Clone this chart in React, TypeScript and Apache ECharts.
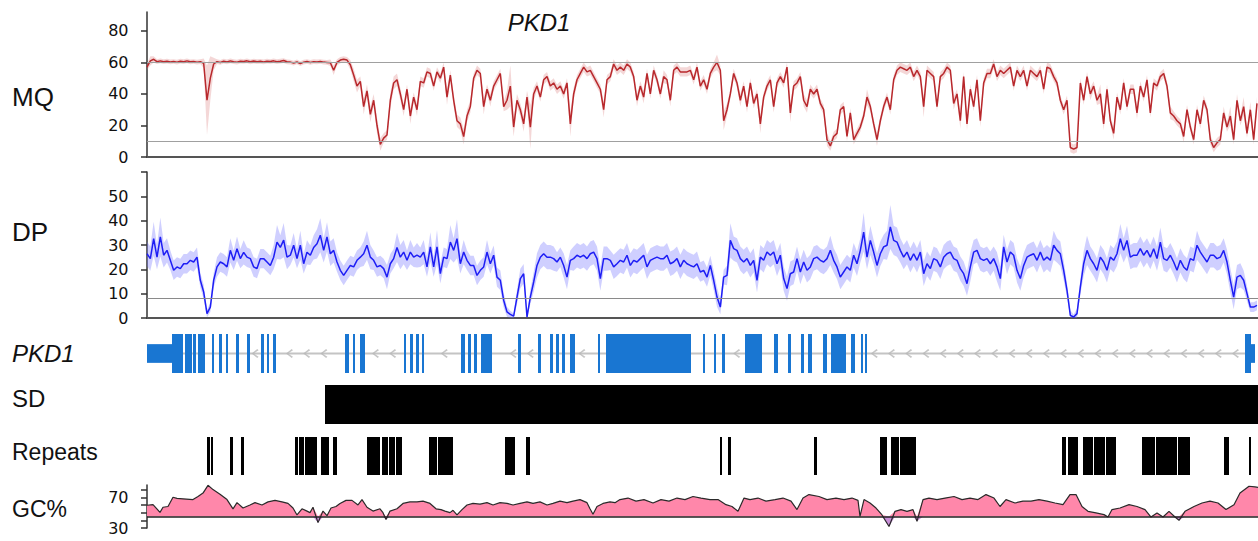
import React, { useEffect, useRef } from 'react';
import * as echarts from 'echarts';

const FONT = '"Liberation Sans", Arial, sans-serif';
const TICK_FONT = '"DejaVu Sans", sans-serif';

// Relative position along the locus (0 = left edge of the tracks)
const REGION_END = 1111;
const STEP = 10 / 3; // spacing of MQ / DP bins

const geneName = 'PKD1';
const trackLabels = ['MQ', 'DP', 'PKD1', 'SD', 'Repeats', 'GC%'];

const mqTicks = [0, 20, 40, 60, 80];
const dpTicks = [0, 10, 20, 30, 40, 50];
const dpTickMarks = [0, 10, 20, 30, 40, 50, 60];
const gcTickLabels = [30, 70];
const gcTickMarks = [30, 40, 50, 60, 70, 80];
const mqThresholds = [60, 10];
const dpThreshold = 8;
const gcBaseline = 45;

const mqValues = [
  57, 61, 62, 60.5, 61, 60.5, 60.8, 60.3, 60.6, 60.2,
  60.8, 60.5, 61, 60.4, 60.6, 60.2, 60.5, 59.5, 36, 50,
  59, 60.5, 60, 60.8, 60.3, 61, 60.5, 60.2, 60.8, 60.6,
  61, 60.4, 60.9, 60.5, 60.7, 60.3, 60.8, 60.6, 61, 60.5,
  60.8, 61.2, 60.4, 60.2, 59.6, 60.3, 59.2, 60.2, 60.6, 60,
  60.5, 60.3, 60.6, 60.2, 60, 59.8, 55, 60, 61.5, 62,
  61.5, 58.5, 52, 45, 48, 32, 42, 27, 36, 20,
  8, 12, 14, 36, 47, 49,
  40, 30, 43, 26, 38, 30, 48, 47, 54, 53,
  45, 54, 50, 57, 38, 52, 36, 23, 21, 13,
  26, 32, 50, 55, 53, 32, 43, 36, 45, 49,
  53, 32, 36, 45, 19, 36, 30, 21, 38, 19,
  40, 45, 38, 49, 51, 45, 47, 43, 45, 40,
  47, 21, 40, 49, 53, 57, 54, 55, 51, 47,
  43, 30, 49, 51, 59, 55, 57, 55, 59, 57,
  51, 36, 45, 38, 53, 40, 55, 49, 40, 51,
  49, 36, 55, 57, 54, 54, 54, 55, 49, 57,
  45, 49, 43, 53, 57, 60, 55, 23, 30, 40,
  53, 47, 36, 45, 32, 47, 34, 40, 21, 38,
  45, 49, 32, 47, 51, 47, 57, 28, 45, 47,
  51, 36, 32, 43, 40, 43, 34,
  30, 11, 7, 13, 15, 30, 32, 13, 28, 11,
  15, 19, 26, 38, 32, 21, 11, 23, 32, 38,
  30, 49, 55, 57, 56, 55, 57, 51, 55, 51,
  32, 55, 53, 51, 32, 51, 53, 57, 55, 34,
  40, 23, 51, 21, 43, 32, 49, 23, 47, 53,
  53, 59, 51, 55, 53, 55, 57, 45, 55, 51,
  55, 45, 55, 53, 51, 55, 43, 57, 56, 51,
  47, 36, 30, 36, 6, 5, 6, 47, 36, 51,
  40, 45, 36, 40, 21, 43, 23, 15, 38, 30,
  47, 32, 43, 43, 28, 45, 38, 49, 28, 47,
  45, 51, 53, 45, 28, 26, 23, 21, 13, 30,
  19, 11, 30, 21, 36, 30, 11, 6, 9, 11,
  28, 19, 26, 11, 36, 23, 32, 15, 30, 11,
  34,
];

const mqSpread = [
  2, 3, 2, 1.5, 1.5, 1.5, 1.5, 1.5, 1.5, 1.5,
  1.5, 1.5, 1.5, 1.5, 1.5, 1.5, 1.5, 3, 22, 14,
  4, 1.5, 1.5, 1.5, 1.5, 1.5, 1.5, 1.5, 1.5, 1.5,
  1.5, 1.5, 1.5, 1.5, 1.5, 1.5, 1.5, 1.5, 1.5, 1.5,
  1.5, 1.5, 1.5, 1.5, 1.5, 1.5, 1.5, 1.5, 1.5, 1.5,
  1.5, 1.5, 1.5, 1.5, 1.5, 2, 3, 2, 2, 2,
  2, 3, 4, 4, 3, 5, 4, 5, 4, 5,
  4, 3, 3, 5, 4, 4,
  4, 4, 3, 5, 3, 4, 3, 3, 3, 3,
  3, 3, 3, 3, 5, 3, 4, 4, 4, 5,
  4, 4, 3, 3, 3, 5, 3, 4, 3, 3,
  3, 3, 6, 13, 6, 4, 4, 5, 4, 14,
  4, 3, 3, 3, 3, 3, 3, 3, 3, 3,
  3, 8, 4, 3, 3, 3, 3, 3, 3, 3,
  3, 5, 3, 3, 3, 3, 3, 3, 3, 3,
  3, 4, 3, 4, 3, 3, 3, 3, 3, 4,
  3, 4, 3, 3, 3, 3, 3, 3, 3, 3,
  3, 3, 3, 3, 3, 5, 3, 6, 4, 3,
  3, 3, 4, 3, 4, 3, 3, 3, 6, 3,
  3, 3, 4, 3, 3, 3, 3, 6, 3, 3,
  3, 4, 4, 3, 3, 3, 3,
  3, 4, 3, 3, 3, 3, 3, 3, 3, 3,
  3, 3, 3, 5, 3, 3, 4, 3, 3, 3,
  3, 3, 3, 3, 3, 3, 3, 3, 3, 3,
  7, 3, 3, 3, 3, 3, 3, 3, 3, 4,
  3, 5, 3, 4, 3, 3, 3, 4, 3, 3,
  3, 3, 3, 3, 3, 3, 3, 3, 3, 3,
  3, 3, 3, 3, 3, 3, 3, 3, 3, 3,
  3, 3, 3, 3, 3, 3, 3, 3, 3, 3,
  4, 3, 3, 6, 4, 3, 3, 4, 3, 3,
  3, 3, 3, 3, 4, 3, 3, 3, 3, 3,
  3, 3, 3, 3, 4, 3, 3, 3, 4, 3,
  3, 3, 3, 3, 3, 3, 3, 3, 3, 3,
  4, 3, 6, 3, 4, 3, 6, 3, 5, 3,
  4,
];

const dpValues = [
  26.4, 24.4, 32.6, 25, 33.3, 25.8, 27.8, 23.7, 19.6, 21,
  20.3, 22.3, 22.3, 23.7, 23, 25, 15.5, 10.7, 1.8, 4.5,
  15.5, 21, 23, 22.3, 21, 27.8, 23.7, 28.5, 24.4, 27,
  25, 24.4, 21, 20.3, 24.4, 24.4, 23, 21.6, 25, 31.2,
  29, 32, 25, 25.8, 29.9, 24.4, 29.9, 22.3, 27, 25.8,
  29, 30.5, 34, 27.8, 33.3, 26.4, 27.8, 23, 19.6, 17.5,
  19.6, 21.6, 21, 23.7, 25, 26.4, 29.9, 25, 23.7, 21,
  21.6, 20.3, 16.8, 22.3, 24.4, 29,
  25, 27.1, 23.7, 27.1, 25, 25.8, 25, 27.1, 21, 29.2,
  21, 29.2, 18.2, 25, 24.4, 31.2, 27.8, 32.6, 22.3, 27.1,
  23.7, 21.6, 21.6, 17.5, 19.6, 21, 27.1, 22.3, 25.8, 16.8,
  15.5, 7.3, 2.5, 1.5, 0.8, 8.6, 16.2, 18.2, 0.4, 8.6,
  14.8, 21.6, 25, 26.4, 25, 25, 24.4, 23, 25, 21.6,
  16.8, 23.7, 24.4, 25.8, 25, 25.8, 24.4, 26.4, 27.1, 24.4,
  16.2, 24.4, 24.4, 23.7, 21, 22.3, 23.7, 23, 25.8, 21.6,
  23.7, 23, 24.4, 25.8, 21, 23.7, 24.4, 25, 24.4, 24.4,
  25.8, 22.3, 23, 24.4, 21, 23.7, 22.3, 21.6, 21, 22.3,
  18.9, 19.6, 16.8, 21.6, 15.5, 8.6, 4.5, 16.8, 17.5, 31.9,
  28.5, 27.8, 24.4, 23, 24.4, 21.6, 23.7, 15.5, 25, 23.7,
  27.1, 25.8, 27.1, 22.3, 25.8, 16.2, 12.1, 18.2, 18.9, 24.4,
  18.9, 23, 19.6, 21, 24.4, 25, 23.7,
  23, 24.4, 27.8, 23.7, 21, 16.8, 18.9, 21, 19.6, 25.8,
  22.3, 27.8, 35.3, 25, 31.9, 27.1, 21.6, 26.4, 29.2, 29.9,
  37.4, 31.9, 31.2, 27.8, 25, 27.1, 23.7, 26.4, 23.7, 27.1,
  18.2, 22.3, 20.3, 24.4, 23.7, 21, 25, 26.4, 27.1, 24.4,
  23.7, 20.3, 18.2, 14.1, 21, 27.1, 27.8, 24.4, 23.7, 24.4,
  22.3, 24.4, 21, 16.2, 29.2, 23, 27.1, 25.8, 19.6, 16.2,
  21.6, 25, 25.8, 26.4, 23.7, 27.1, 23.7, 25, 23.7, 29.9,
  27.8, 26.4, 19.6, 11.4, 1.1, 0.4, 1.8, 12.7, 22.3, 27.8,
  24.4, 22.3, 19.6, 25, 23, 19.6, 25, 23.7, 26.4, 32.6,
  27.8, 31.9, 25, 25.8, 25.8, 28.5, 25.8, 27.8, 25, 28.5,
  24.4, 31.2, 24.4, 23.7, 25.8, 23, 19.6, 23.7, 21, 19.6,
  24.4, 23.7, 29.9, 27.1, 25, 23, 25.8, 25.8, 24.4, 25,
  27.8, 23, 15.5, 8.6, 16.8, 17.5, 15.5, 10, 4.5, 4.5,
  5.2,
];

const dpSpread = [
  5, 5, 7, 5, 8, 5, 5, 4, 4, 4,
  4, 4, 4, 4, 4, 4, 3, 3, 1.5, 2,
  3, 4, 4, 4, 4, 5, 4, 5, 4, 5,
  4, 4, 4, 4, 4, 4, 4, 4, 5, 7,
  5, 7, 5, 4, 5, 4, 6, 4, 5, 4,
  5, 6, 7, 5, 6, 5, 5, 4, 4, 4,
  4, 4, 4, 4, 4, 5, 6, 5, 4, 4,
  4, 4, 5, 4, 4, 6,
  5, 5, 4, 5, 4, 5, 4, 5, 4, 6,
  4, 7, 4, 4, 4, 7, 5, 8, 4, 5,
  4, 4, 4, 4, 4, 4, 5, 4, 4, 4,
  4, 3, 2, 1.5, 1, 3, 4, 4, 1, 3,
  4, 5, 5, 5, 5, 5, 5, 4, 4, 5,
  5, 4, 5, 5, 5, 5, 5, 5, 5, 5,
  5, 5, 5, 4, 5, 5, 5, 5, 5, 5,
  5, 5, 5, 5, 5, 5, 5, 5, 5, 5,
  5, 5, 5, 5, 5, 5, 5, 5, 5, 5,
  4, 4, 4, 4, 4, 4, 3, 3, 4, 7,
  5, 5, 5, 5, 5, 5, 5, 5, 5, 5,
  5, 5, 5, 5, 5, 5, 5, 5, 5, 5,
  5, 5, 5, 5, 5, 5, 5,
  5, 5, 6, 5, 5, 5, 5, 5, 5, 5,
  5, 5, 8, 5, 6, 5, 5, 5, 5, 6,
  9, 6, 6, 5, 5, 5, 5, 5, 5, 5,
  5, 5, 5, 5, 5, 5, 5, 5, 5, 5,
  5, 5, 5, 5, 6, 5, 5, 5, 5, 5,
  5, 5, 6, 5, 5, 5, 5, 5, 5, 5,
  5, 5, 5, 5, 5, 5, 5, 5, 5, 6,
  5, 5, 4, 3, 2, 1, 2, 3, 5, 6,
  5, 5, 5, 5, 5, 5, 5, 5, 5, 6,
  5, 6, 5, 5, 5, 5, 5, 5, 5, 5,
  5, 6, 5, 5, 5, 5, 5, 5, 5, 5,
  5, 5, 6, 5, 5, 5, 5, 5, 5, 5,
  5, 5, 5, 5, 5, 5, 4, 3, 2, 2,
  2,
];

// [position, GC%]
const gcProfile = [
  [0, 59.6], [6, 60.5], [13, 50.4], [16, 57], [21, 58], [26, 70], [30, 68.5], [36, 68], [46, 67], [51, 71],
  [56, 75.5], [61, 85.6], [66, 80], [73, 74], [80, 67], [86, 55], [90, 63], [96, 56], [103, 60], [108, 63],
  [115, 60], [121, 64], [128, 66], [135, 64], [141, 62], [146, 56], [150, 47], [155, 55], [160, 52], [163, 50],
  [166, 57], [171, 37], [176, 52], [180, 46], [184, 56], [189, 58], [193, 62], [199, 66], [205, 66], [211, 60],
  [215, 67], [220, 57], [226, 52], [233, 55], [236, 50], [239, 41], [243, 52], [250, 55], [256, 62], [263, 64],
  [270, 64], [276, 65], [283, 62], [289, 55], [294, 54], [298, 52], [303, 50], [306, 53], [310, 47], [315, 54],
  [320, 60], [326, 62], [333, 61], [340, 63], [346, 60], [353, 63], [360, 62], [366, 60], [373, 62], [380, 64],
  [386, 62], [393, 64], [400, 60], [406, 62], [413, 65], [420, 63], [426, 65], [433, 67], [440, 63], [443, 55],
  [446, 48], [450, 58], [456, 62], [463, 64], [468, 63], [473, 67], [481, 69], [489, 65], [497, 67], [506, 62.6],
  [514, 67], [522, 65], [530, 69], [538, 67], [546, 71], [554, 69], [563, 67], [571, 67], [579, 60.4], [585, 58],
  [591, 51.7], [597, 69], [603, 67], [611, 69], [619, 65], [628, 67], [636, 69], [644, 65], [650, 54], [656, 69],
  [662, 73.5], [672, 71], [680, 67], [689, 69], [697, 67], [705, 69], [711, 66], [713, 45.2], [717, 67], [723, 62.6],
  [729, 56], [735, 47], [742, 32], [748, 51.7], [754, 54], [760, 51.7], [766, 54], [770, 38.7], [776, 67], [782, 69],
  [790, 67], [798, 69], [807, 71], [815, 67], [823, 69], [831, 67], [839, 73.5], [847, 69], [853, 58], [859, 67],
  [868, 62.6], [876, 65], [884, 65], [892, 67], [900, 65], [908, 62.6], [916, 60.4], [923, 73.5], [929, 73.5], [935, 58],
  [941, 51.7], [949, 49.6], [957, 47.4], [961, 44.3], [965, 54], [973, 56], [982, 60.4], [990, 58], [998, 54], [1004, 44.3],
  [1010, 49.6], [1016, 44.3], [1022, 51.7], [1028, 44.3], [1032, 40], [1038, 51.7], [1047, 58], [1055, 62.6], [1063, 65], [1071, 62.6],
  [1079, 54], [1087, 60.4], [1093, 75.7], [1102, 84.4], [1108, 83.5], [1111, 83],
];

// [start, end, kind]  kind 0 = UTR, 1 = coding exon
const exons = [
  [0, 25, 0], [25, 36, 1], [38, 45, 1], [46, 49, 1], [51, 58, 1], [65, 67, 1], [72, 75, 1], [79, 81, 1],
  [89, 92, 1], [100, 103, 1], [114, 117, 1], [120, 122, 1], [126, 129, 1], [198, 202, 1], [206, 208, 1],
  [213, 218, 1], [257, 259, 1], [263, 266, 1], [269, 272, 1], [275, 277, 1], [314, 318, 1], [321, 324, 1],
  [327, 330, 1], [334, 345, 1], [371, 374, 1], [391, 394, 1], [403, 406, 1], [409, 412, 1], [415, 418, 1],
  [423, 428, 1], [451, 453, 1], [459, 544, 1], [556, 558, 1], [567, 569, 1], [575, 578, 1], [598, 615, 1],
  [627, 631, 1], [641, 644, 1], [654, 657, 1], [661, 665, 1], [676, 680, 1], [684, 699, 1], [704, 708, 1],
  [714, 716, 1], [718, 720, 1], [1098, 1104, 1], [1104, 1108, 0],
];

const sdSegments = [[178, 1111]];

const repeats = [
  [60, 63], [64, 66], [83, 86], [94, 97], [148, 151], [152, 157], [158, 170], [174, 182], [186, 190],
  [220, 233], [235, 241], [242, 248], [249, 255], [282, 290], [291, 306], [358, 368], [379, 383],
  [573, 575], [581, 584], [667, 670], [733, 740], [744, 752], [753, 769], [915, 919], [921, 931],
  [936, 946], [947, 958], [959, 969], [995, 1008], [1009, 1030], [1031, 1043], [1077, 1082], [1102, 1104],
];

const ARROW_SPACING = 17.2;
const ARROW_PHASE = 4.9;

function buildOption() {
  const xy = (vals: number[]) => vals.map((v, i) => [i * STEP, v]);

  // Shaded range around a signal, drawn as one polygon through the axis scales
  const band = (vals: number[], spread: number[], g: number, color: string) => ({
    type: 'custom', xAxisIndex: g, yAxisIndex: g, data: [[0, 0]], encode: { x: 0, y: 1 },
    silent: true, z: 1, clip: true,
    renderItem: (params: any, api: any) => {
      const upper: number[][] = [];
      const lower: number[][] = [];
      vals.forEach((v, i) => {
        const s = spread[i] ?? 3;
        upper.push(api.coord([i * STEP, v + s]));
        lower.push(api.coord([i * STEP, Math.max(0, v - s)]));
      });
      return {
        type: 'polygon',
        shape: { points: upper.concat(lower.reverse()) },
        style: { fill: color },
      };
    },
  });

  const gridTops = [12, 172, 334, 385, 437, 485];
  const gridHeights = [145, 146, 39, 39, 38, 43];
  const grids = gridTops.map((t, i) => ({ left: 147, right: 0, top: t, height: gridHeights[i] }));

  const xAxes = gridTops.map((_, i) => ({
    gridIndex: i, type: 'value', min: 0, max: REGION_END,
    show: i <= 1,
    axisLine: { show: i <= 1, onZero: false, lineStyle: { color: '#555', width: 2 } },
    axisTick: { show: false }, axisLabel: { show: false }, splitLine: { show: false },
  }));

  const tickAxis = (g: number, min: number, max: number, interval: number, labels: number[], marks: number[]) => ({
    gridIndex: g, type: 'value', min, max, interval, offset: 8.5,
    axisLine: { show: true, lineStyle: { color: '#333', width: 1.5 } },
    axisTick: { show: true, length: 6, customValues: marks, lineStyle: { color: '#333', width: 1.5 } },
    axisLabel: {
      show: true, margin: 10, customValues: labels,
      formatter: (v: number) => (labels.indexOf(v) >= 0 ? String(v) : ''),
      fontFamily: TICK_FONT, fontSize: 16, color: '#111',
    },
    splitLine: { show: false },
  });

  const yAxes = [
    tickAxis(0, 0, 92, 20, mqTicks, mqTicks),
    tickAxis(1, 0, 60, 10, dpTicks, dpTickMarks),
    { gridIndex: 2, type: 'value', min: 0, max: 1, show: false },
    { gridIndex: 3, type: 'value', min: 0, max: 1, show: false },
    { gridIndex: 4, type: 'value', min: 0, max: 1, show: false },
    tickAxis(5, 30, 86, 10, gcTickLabels, gcTickMarks),
  ];

  // Arrow glyphs along the introns
  const arrowPos: number[][] = [];
  for (let i = 0; i < exons.length - 1; i++) {
    const a = exons[i][1];
    const b = exons[i + 1][0];
    for (let p = ARROW_PHASE; p < b; p += ARROW_SPACING) {
      if (p - a >= 5 && b - p >= 4) arrowPos.push([p, 0.5]);
    }
  }

  const blockRender = (fill: string, useKind: boolean) => (params: any, api: any) => {
    const s = api.value(0);
    const e = api.value(1);
    const kind = useKind ? api.value(2) : 1;
    const top = kind ? 1 : 0.74;
    const bot = kind ? 0 : 0.26;
    const p0 = api.coord([s, top]);
    const p1 = api.coord([e, bot]);
    return {
      type: 'rect',
      shape: { x: p0[0], y: p0[1], width: Math.max(p1[0] - p0[0], 1.2), height: p1[1] - p0[1] },
      style: { fill },
    };
  };

  const gcHigh = gcProfile.map(([x, v]) => [x, Math.max(v, gcBaseline)]);
  const gcLow = gcProfile.map(([x, v]) => [x, Math.min(v, gcBaseline)]);

  const series: any[] = [
    band(mqValues, mqSpread, 0, 'rgba(214, 110, 110, 0.28)'),
    {
      type: 'line', xAxisIndex: 0, yAxisIndex: 0, data: xy(mqValues), symbol: 'none', z: 3,
      lineStyle: { color: '#b8282c', width: 1.5 },
      markLine: {
        silent: true, symbol: ['none', 'none'], label: { show: false },
        lineStyle: { color: '#a0a0a0', width: 1.2, type: 'solid' },
        data: mqThresholds.map((y) => ({ yAxis: y })),
      },
    },
    band(dpValues, dpSpread, 1, 'rgba(110, 110, 255, 0.33)'),
    {
      type: 'line', xAxisIndex: 1, yAxisIndex: 1, data: xy(dpValues), symbol: 'none', z: 3,
      lineStyle: { color: '#1e1ef5', width: 1.5 },
      markLine: {
        silent: true, symbol: ['none', 'none'], label: { show: false },
        lineStyle: { color: '#8a8a8a', width: 1, type: 'solid' },
        data: [{ yAxis: dpThreshold }],
      },
    },
    {
      type: 'line', xAxisIndex: 2, yAxisIndex: 2, symbol: 'none', silent: true, z: 1,
      data: [[exons[0][1], 0.5], [exons[exons.length - 1][0], 0.5]],
      lineStyle: { color: '#c4c4c4', width: 2 },
    },
    {
      type: 'scatter', xAxisIndex: 2, yAxisIndex: 2, data: arrowPos, silent: true, z: 2,
      symbol: 'path://M7,0L8.6,1.3L2.6,5L8.6,8.7L7,10L0,5Z', symbolSize: [7, 9],
      itemStyle: { color: '#b8b8b8' },
    },
    {
      type: 'custom', xAxisIndex: 2, yAxisIndex: 2, data: exons, encode: { x: [0, 1] }, z: 3,
      renderItem: blockRender('#1976d2', true), silent: true,
    },
    {
      type: 'custom', xAxisIndex: 3, yAxisIndex: 3, data: sdSegments, encode: { x: [0, 1] }, z: 3,
      renderItem: blockRender('#000', false), silent: true,
    },
    {
      type: 'custom', xAxisIndex: 4, yAxisIndex: 4, data: repeats, encode: { x: [0, 1] }, z: 3,
      renderItem: blockRender('#000', false), silent: true,
    },
    {
      type: 'line', xAxisIndex: 5, yAxisIndex: 5, data: gcHigh, symbol: 'none', silent: true, z: 1,
      lineStyle: { width: 0, opacity: 0 }, areaStyle: { color: '#ff87aa', opacity: 1, origin: gcBaseline },
    },
    {
      type: 'line', xAxisIndex: 5, yAxisIndex: 5, data: gcLow, symbol: 'none', silent: true, z: 1,
      lineStyle: { width: 0, opacity: 0 }, areaStyle: { color: '#c98fd8', opacity: 1, origin: gcBaseline },
    },
    {
      type: 'line', xAxisIndex: 5, yAxisIndex: 5, data: gcProfile, symbol: 'none', silent: true, z: 3,
      lineStyle: { color: '#2a2a2a', width: 1.2 },
      markLine: {
        silent: true, symbol: ['none', 'none'], label: { show: false },
        lineStyle: { color: '#222', width: 1.5, type: 'solid' },
        data: [{ yAxis: gcBaseline }],
      },
    },
  ];

  const labelY = [96.5, 231.5, 353, 398, 452, 509];
  const labelSize = [26, 26, 24, 24, 23, 23];
  const graphic: any[] = trackLabels.map((t, i) => ({
    type: 'text', x: 12, y: labelY[i], silent: true,
    style: {
      text: t, fontFamily: FONT, fontSize: labelSize[i], fill: '#111', verticalAlign: 'middle',
      fontStyle: t === geneName ? 'italic' : 'normal',
    },
  }));
  graphic.push({
    type: 'text', x: 539, y: 22, silent: true,
    style: { text: geneName, fontFamily: FONT, fontSize: 24, fontStyle: 'italic', fill: '#111', align: 'center', verticalAlign: 'middle' },
  });

  return {
    animation: false,
    backgroundColor: '#fff',
    grid: grids,
    xAxis: xAxes,
    yAxis: yAxes,
    series,
    graphic,
  };
}

export default function App() {
  const ref = useRef<HTMLDivElement>(null);
  useEffect(() => {
    if (!ref.current) return;
    const chart = echarts.init(ref.current, null, { renderer: 'svg' });
    chart.setOption(buildOption() as any);
    return () => chart.dispose();
  }, []);
  return (
    <div
      ref={ref}
      style={{ position: 'absolute', left: 0, top: 0, width: 1258, height: 541 }}
    />
  );
}
